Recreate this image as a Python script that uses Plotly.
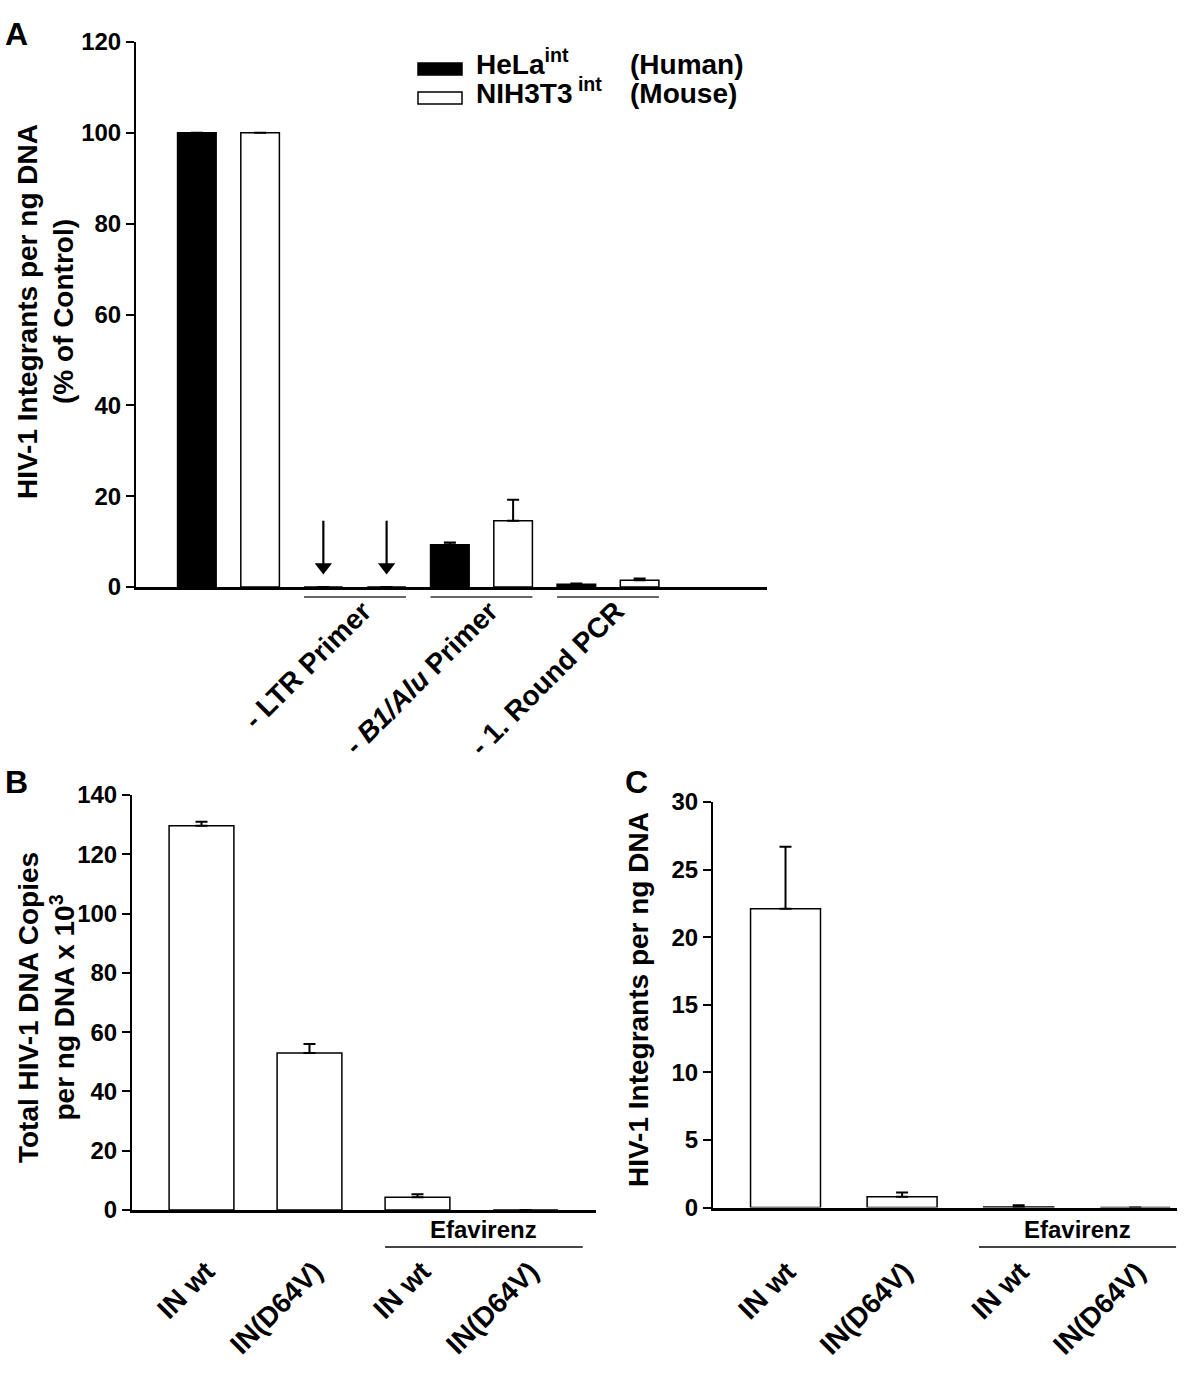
import plotly.graph_objects as go

# ---------------- data ----------------
# Panel A
groups_A = ["Control", "- LTR Primer", "- <i>B1/Alu</i> Primer", "- 1. Round PCR"]
hela_vals = [100, 0, 9.3, 0.6]
hela_err = [None, None, 0.5, 0.15]
nih_vals = [100, 0, 14.6, 1.5]
nih_err = [None, None, 4.6, 0.35]
legend_names = ["HeLa<sup>int</sup>", "NIH3T3<sup> int</sup>"]
legend_species = ["(Human)", "(Mouse)"]
yticks_A = [0, 20, 40, 60, 80, 100, 120]
# arrows mark the "- LTR Primer" group (no product): shaft top / tip values
arrow_top, arrow_tip = 14.6, 1.8

# Panels B and C
cats_BC = ["IN wt", "IN(D64V)", "IN wt", "IN(D64V)"]
total_dna = [129.6, 53.0, 4.3, 0]
total_dna_err = [1.4, 3.0, 1.0, None]
integrants = [22.1, 0.8, 0.05, 0]
integrants_err = [4.6, 0.32, 0.12, None]
yticks_B = [0, 20, 40, 60, 80, 100, 120, 140]
yticks_C = [0, 5, 10, 15, 20, 25, 30]
treatment = "Efavirenz"

# ---------------- styling ----------------
FONT = "Liberation Sans, Arial, Helvetica, sans-serif"
W, H = 1200, 1374
# observed page->photo vertical mapping: y_photo = 0.9803 * y_page + 14
V_SCALE, V_OFF = 0.9803, 14.0


def px_x(p):
    return p / W


def px_y(p):
    page = (p - V_OFF) / V_SCALE
    return 1 - page / H


pos_A = [1, 2, 3, 4]
pos_BC = [1, 2, 3, 4]
off = 0.25
bw_A = 0.305

fig = go.Figure()
err_style = dict(type="data", symmetric=False, color="black", thickness=2, width=6)

fig.add_trace(go.Bar(
    x=[p - off for p in pos_A], y=hela_vals, width=bw_A,
    marker=dict(color="black", line=dict(color="black", width=1.5)),
    error_y=dict(array=hela_err, arrayminus=[0] * 4, **err_style),
    xaxis="x", yaxis="y", name="HeLa"))
fig.add_trace(go.Bar(
    x=[p + off for p in pos_A], y=nih_vals, width=bw_A,
    marker=dict(color="white", line=dict(color="black", width=1.5)),
    error_y=dict(array=nih_err, arrayminus=[0] * 4, **err_style),
    xaxis="x", yaxis="y", name="NIH3T3"))

# arrows (shaft + head) over the empty LTR group
arrow_x = [pos_A[1] - off, pos_A[1] + off]
shaft_x, shaft_y = [], []
for xx in arrow_x:
    shaft_x += [xx, xx, None]
    shaft_y += [arrow_top, arrow_tip + 3.0, None]
fig.add_trace(go.Scatter(x=shaft_x, y=shaft_y, mode="lines",
                         line=dict(color="black", width=2.2),
                         xaxis="x", yaxis="y", hoverinfo="skip"))
fig.add_trace(go.Scatter(x=arrow_x, y=[arrow_tip + 2.6] * 2, mode="markers",
                         marker=dict(symbol="triangle-down", size=15, color="black",
                                     line=dict(width=0)),
                         xaxis="x", yaxis="y", hoverinfo="skip"))

fig.add_trace(go.Bar(
    x=pos_BC, y=total_dna, width=0.6,
    marker=dict(color="white", line=dict(color="black", width=1.5)),
    error_y=dict(array=total_dna_err, arrayminus=[0] * 4, **err_style),
    xaxis="x2", yaxis="y2"))
fig.add_trace(go.Bar(
    x=pos_BC, y=integrants, width=0.6,
    marker=dict(color="white", line=dict(color="black", width=1.5)),
    error_y=dict(array=integrants_err, arrayminus=[0] * 4, **err_style),
    xaxis="x3", yaxis="y3"))

tickfont_num = dict(family=FONT, size=24, color="black", weight="bold")
tickfont_cat = dict(family=FONT, size=28, color="black", weight="bold")

common_x = dict(showline=True, linecolor="black", linewidth=2.5, ticks="",
                showgrid=False, zeroline=False, tickangle=-45,
                tickfont=tickfont_cat, tickmode="array")
common_y = dict(showline=True, linecolor="black", linewidth=2, ticks="outside",
                ticklen=8, tickwidth=2, tickcolor="black", showgrid=False,
                zeroline=False, tickfont=tickfont_num, tickmode="array")

fig.update_layout(
    width=W, height=H, margin=dict(l=0, r=0, t=0, b=0),
    paper_bgcolor="white", plot_bgcolor="white", showlegend=False,
    barmode="overlay",
    xaxis=dict(domain=[px_x(136), px_x(767)], range=[0.269, 5.257], anchor="y",
               tickvals=pos_A[1:], ticktext=groups_A[1:],
               ticklabelstandoff=-6, ticklabelshift=8, **common_x),
    yaxis=dict(domain=[px_y(587), px_y(42)], range=[0, 120], anchor="x",
               tickvals=yticks_A, **common_y),
    xaxis2=dict(domain=[px_x(132), px_x(596)], range=[0.3565, 4.653], anchor="y2",
                tickvals=pos_BC, ticktext=cats_BC,
                ticklabelstandoff=31, ticklabelshift=5, **common_x),
    yaxis2=dict(domain=[px_y(1210), px_y(795)], range=[0, 140], anchor="x2",
                tickvals=yticks_B, **common_y),
    xaxis3=dict(domain=[px_x(713), px_x(1177)], range=[0.378, 4.358], anchor="y3",
                tickvals=pos_BC, ticktext=cats_BC,
                ticklabelstandoff=34, ticklabelshift=2, **common_x),
    yaxis3=dict(domain=[px_y(1207.5), px_y(802)], range=[0, 30], anchor="x3",
                tickvals=yticks_C, **common_y),
)

shapes = []
annots = []

# group underlines in panel A
for p in pos_A[1:]:
    shapes.append(dict(type="line", xref="x", yref="y domain",
                       x0=p - off - bw_A / 2, x1=p + off + bw_A / 2,
                       y0=-0.0183, y1=-0.0183,
                       line=dict(color="#333333", width=1.5)))

# Efavirenz brackets
for xa, ya, x0, x1, ly, ty in [("x2", "y2", 2.7, 4.53, -0.0892, -0.046),
                               ("x3", "y3", 2.66, 4.35, -0.0974, -0.054)]:
    shapes.append(dict(type="line", xref=xa, yref=ya + " domain",
                       x0=x0, x1=x1, y0=ly, y1=ly,
                       line=dict(color="#444444", width=2)))
    annots.append(dict(x=(x0 + x1) / 2, y=ty, xref=xa, yref=ya + " domain",
                       xanchor="center", yanchor="middle",
                       text=treatment, showarrow=False,
                       font=dict(family=FONT, size=24, color="black", weight="bold")))

# legend (panel A)
legend_fill = ["black", "white"]
legend_rows = [(63, 75), (92, 104)]
for fillc, (t, b), name, sp in zip(legend_fill, legend_rows, legend_names, legend_species):
    shapes.append(dict(type="rect", xref="paper", yref="paper",
                       x0=px_x(418), x1=px_x(462), y0=px_y(b), y1=px_y(t),
                       fillcolor=fillc, line=dict(color="black", width=1.5)))
    ybot = px_y(b + 7)
    annots.append(dict(x=px_x(474), y=ybot, xref="paper", yref="paper",
                       xanchor="left", yanchor="bottom", text=name, showarrow=False,
                       font=dict(family=FONT, size=28, color="black", weight="bold")))
    annots.append(dict(x=px_x(628), y=ybot, xref="paper", yref="paper",
                       xanchor="left", yanchor="bottom", text=sp, showarrow=False,
                       font=dict(family=FONT, size=28, color="black", weight="bold")))

# axis titles
title_font = dict(family=FONT, size=28, color="black", weight="bold")
annots.append(dict(x=px_x(45), y=px_y(312), xref="paper", yref="paper",
                   xanchor="center", yanchor="middle",
                   text="HIV-1 Integrants per ng DNA<br>(% of Control)",
                   textangle=-90, showarrow=False, font=title_font))
annots.append(dict(x=px_x(46), y=px_y(1008), xref="paper", yref="paper",
                   xanchor="center", yanchor="middle",
                   text="Total HIV-1 DNA Copies<br>per ng DNA x 10<sup>3</sup>",
                   textangle=-90, showarrow=False, font=title_font))
annots.append(dict(x=px_x(638), y=px_y(1000), xref="paper", yref="paper",
                   xanchor="center", yanchor="middle",
                   text="HIV-1 Integrants per ng DNA",
                   textangle=-90, showarrow=False, font=title_font))

# panel letters
letter_font = dict(family=FONT, size=32, color="black", weight="bold")
annots.append(dict(x=px_x(3), y=1.0, xref="paper", yref="paper",
                   xanchor="left", yanchor="top", text="A",
                   showarrow=False, font=letter_font))
for letter, lx, ly in [("B", 3, 782), ("C", 623, 782)]:
    annots.append(dict(x=px_x(lx), y=px_y(ly), xref="paper", yref="paper",
                       xanchor="left", yanchor="middle", text=letter,
                       showarrow=False, font=letter_font))

fig.update_layout(shapes=shapes, annotations=annots)
fig.write_html(
    "out.html",
    config={"displayModeBar": False},
    post_script=(
        "document.documentElement.style.margin='0';"
        "document.body.style.margin='0';document.body.style.padding='0';"
        "document.body.style.overflow='hidden';"
    ),
)
